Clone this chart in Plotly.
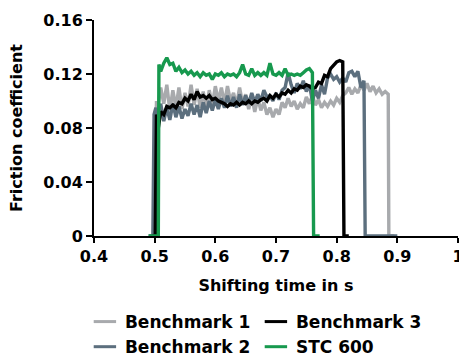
import plotly.graph_objects as go

# ---- data ----
b1_t = [0.492, 0.499, 0.503, 0.505, 0.510, 0.515, 0.520, 0.525, 0.530, 0.535, 0.540, 0.545, 0.550, 0.555,
        0.560, 0.565, 0.570, 0.575, 0.580, 0.585, 0.590, 0.595, 0.600, 0.605, 0.610, 0.615, 0.620, 0.625,
        0.630, 0.635, 0.640, 0.645, 0.650, 0.655, 0.660, 0.665, 0.670, 0.675, 0.680, 0.685, 0.690, 0.695,
        0.700, 0.705, 0.710, 0.715, 0.720, 0.725, 0.730, 0.735, 0.740, 0.745, 0.750, 0.755, 0.760, 0.765,
        0.770, 0.775, 0.780, 0.785, 0.790, 0.795, 0.800, 0.805, 0.810, 0.815, 0.820, 0.825, 0.830, 0.835,
        0.840, 0.845, 0.850, 0.855, 0.860, 0.865, 0.870, 0.875, 0.880, 0.885, 0.886, 0.895]
b1_v = [0, 0, 0.100, 0.095, 0.110, 0.098, 0.112, 0.093, 0.108, 0.095, 0.110, 0.094, 0.106, 0.096,
        0.112, 0.097, 0.109, 0.095, 0.107, 0.094, 0.108, 0.097, 0.111, 0.100, 0.110, 0.098, 0.111, 0.100,
        0.106, 0.097, 0.110, 0.098, 0.105, 0.094, 0.103, 0.092, 0.102, 0.093, 0.099, 0.090, 0.095, 0.088,
        0.094, 0.090, 0.099, 0.095, 0.102, 0.096, 0.100, 0.094, 0.098, 0.095, 0.103, 0.098, 0.104, 0.097,
        0.101, 0.095, 0.099, 0.096, 0.100, 0.097, 0.102, 0.099, 0.104, 0.106, 0.110, 0.105, 0.109, 0.106,
        0.112, 0.108, 0.113, 0.107, 0.111, 0.106, 0.109, 0.105, 0.107, 0.105, 0, 0]

b2_t = [0.490, 0.497, 0.499, 0.502, 0.505, 0.510, 0.515, 0.520, 0.525, 0.530, 0.535, 0.540, 0.545, 0.550,
        0.555, 0.560, 0.565, 0.570, 0.575, 0.580, 0.585, 0.590, 0.595, 0.600, 0.605, 0.610, 0.615, 0.620,
        0.625, 0.630, 0.635, 0.640, 0.645, 0.650, 0.655, 0.660, 0.665, 0.670, 0.675, 0.680, 0.685, 0.690,
        0.695, 0.700, 0.705, 0.710, 0.715, 0.720, 0.725, 0.730, 0.735, 0.740, 0.745, 0.750, 0.755, 0.760,
        0.765, 0.770, 0.775, 0.780, 0.785, 0.790, 0.795, 0.800, 0.805, 0.810, 0.815, 0.820, 0.825, 0.830,
        0.835, 0.840, 0.845, 0.847, 0.900]
b2_v = [0, 0, 0.090, 0.095, 0.088, 0.098, 0.085, 0.095, 0.086, 0.098, 0.088, 0.096, 0.087, 0.094,
        0.089, 0.098, 0.090, 0.097, 0.088, 0.099, 0.091, 0.100, 0.093, 0.101, 0.094, 0.102, 0.095, 0.104,
        0.096, 0.103, 0.095, 0.105, 0.097, 0.104, 0.098, 0.106, 0.099, 0.105, 0.100, 0.108, 0.103, 0.104,
        0.100, 0.106, 0.101, 0.108, 0.110, 0.121, 0.112, 0.106, 0.113, 0.109, 0.115, 0.107, 0.112, 0.100,
        0.108, 0.102, 0.112, 0.105, 0.117, 0.120, 0.116, 0.118, 0.114, 0.117, 0.114, 0.121, 0.122, 0.118,
        0.122, 0.110, 0.115, 0, 0]

b3_t = [0.495, 0.501, 0.503, 0.506, 0.510, 0.515, 0.520, 0.525, 0.530, 0.535, 0.540, 0.545, 0.550, 0.555,
        0.560, 0.565, 0.570, 0.575, 0.580, 0.585, 0.590, 0.595, 0.600, 0.605, 0.610, 0.615, 0.620, 0.625,
        0.630, 0.635, 0.640, 0.645, 0.650, 0.655, 0.660, 0.665, 0.670, 0.675, 0.680, 0.685, 0.690, 0.695,
        0.700, 0.705, 0.710, 0.715, 0.720, 0.725, 0.730, 0.735, 0.740, 0.745, 0.750, 0.755, 0.760, 0.765,
        0.770, 0.775, 0.780, 0.785, 0.790, 0.795, 0.800, 0.805, 0.810, 0.812, 0.820]
b3_v = [0, 0, 0.090, 0.080, 0.092, 0.090, 0.096, 0.095, 0.097, 0.095, 0.099, 0.098, 0.102, 0.100,
        0.105, 0.101, 0.107, 0.103, 0.104, 0.102, 0.104, 0.101, 0.102, 0.100, 0.099, 0.098, 0.096, 0.098,
        0.097, 0.099, 0.097, 0.099, 0.098, 0.100, 0.098, 0.100, 0.099, 0.101, 0.102, 0.100, 0.104, 0.102,
        0.105, 0.103, 0.106, 0.105, 0.108, 0.106, 0.109, 0.108, 0.111, 0.110, 0.112, 0.111, 0.109, 0.110,
        0.114, 0.113, 0.119, 0.118, 0.124, 0.127, 0.129, 0.130, 0.129, 0, 0]

stc_t = [0.490, 0.506, 0.507, 0.510, 0.515, 0.520, 0.525, 0.530, 0.535, 0.540, 0.545, 0.550, 0.555,
         0.560, 0.565, 0.570, 0.575, 0.580, 0.585, 0.590, 0.595, 0.600, 0.605, 0.610, 0.615, 0.620,
         0.625, 0.630, 0.635, 0.640, 0.645, 0.650, 0.655, 0.660, 0.665, 0.670, 0.675, 0.680, 0.685,
         0.690, 0.695, 0.700, 0.705, 0.710, 0.715, 0.720, 0.725, 0.730, 0.735, 0.740, 0.745, 0.750,
         0.755, 0.760, 0.762, 0.772]
stc_v = [0, 0, 0.127, 0.122, 0.128, 0.132, 0.127, 0.128, 0.122, 0.125, 0.121, 0.123, 0.120,
         0.122, 0.119, 0.121, 0.118, 0.121, 0.119, 0.120, 0.116, 0.120, 0.119, 0.121, 0.118, 0.120,
         0.119, 0.120, 0.118, 0.121, 0.127, 0.120, 0.119, 0.124, 0.119, 0.121, 0.119, 0.121, 0.119,
         0.128, 0.120, 0.119, 0.121, 0.119, 0.124, 0.119, 0.120, 0.119, 0.120, 0.119, 0.121, 0.123,
         0.124, 0.121, 0, 0]

x_ticks = [0.4, 0.5, 0.6, 0.7, 0.8, 0.9, 1.0]
x_tick_labels = ["0.4", "0.5", "0.6", "0.7", "0.8", "0.9", "1"]
y_ticks = [0, 0.04, 0.08, 0.12, 0.16]
y_tick_labels = ["0", "0.04", "0.08", "0.12", "0.16"]

FONT = "DejaVu Sans, Verdana, sans-serif"
F = dict(family=FONT, size=16, color="black", weight="bold")
FL = dict(family=FONT, size=17, color="black", weight="bold")

fig = go.Figure()
series = [
    ("Benchmark 1", b1_t, b1_v, "#a8aaad", 1),
    ("Benchmark 2", b2_t, b2_v, "#5c6f7e", 3),
    ("Benchmark 3", b3_t, b3_v, "#000000", 2),
    ("STC 600", stc_t, stc_v, "#17994e", 4),
]
for name, t, v, col, rank in series:
    fig.add_trace(go.Scatter(x=t, y=v, mode="lines", name=name, showlegend=False,
                             line=dict(color=col, width=3.4)))
# legend entries with short line samples
for name, t, v, col, rank in series:
    fig.add_trace(go.Scatter(x=[None], y=[None], mode="markers", name=name, legendrank=rank,
                             marker=dict(symbol="line-ew", size=17, color=col,
                                         line=dict(color=col, width=3))))

fig.update_layout(
    width=459, height=357,
    margin=dict(l=94, r=1, t=20, b=121, autoexpand=False),
    paper_bgcolor="white", plot_bgcolor="white",
    font=F,
    showlegend=True,
    legend=dict(orientation="h", x=-0.025, xanchor="left", y=-0.315, yanchor="top",
                entrywidth=126, entrywidthmode="pixels", itemwidth=30,
                font=FL, tracegroupgap=0, traceorder="normal"),
)
fig.update_xaxes(range=[0.4, 1.0], tickvals=x_ticks, ticktext=x_tick_labels, automargin=False,
                 ticklabeloverflow="allow",
                 showline=True, linecolor="black", linewidth=2, ticks="outside",
                 ticklen=5, tickwidth=2, tickcolor="black", showgrid=False, zeroline=False,
                 title=dict(text="Shifting time in s", standoff=15, font=F),
                 tickfont=F)
fig.update_yaxes(range=[0, 0.16], tickvals=y_ticks, ticktext=y_tick_labels, automargin=False,
                 ticklabeloverflow="allow",
                 showline=True, linecolor="black", linewidth=2, ticks="outside",
                 ticklen=6, tickwidth=2, tickcolor="black", showgrid=False, zeroline=False,
                 title=dict(text="Friction coefficient", standoff=17, font=F),
                 tickfont=F)

fig.write_html("out.html", config={"displayModeBar": False},
               post_script="document.body.style.margin='0px';")
